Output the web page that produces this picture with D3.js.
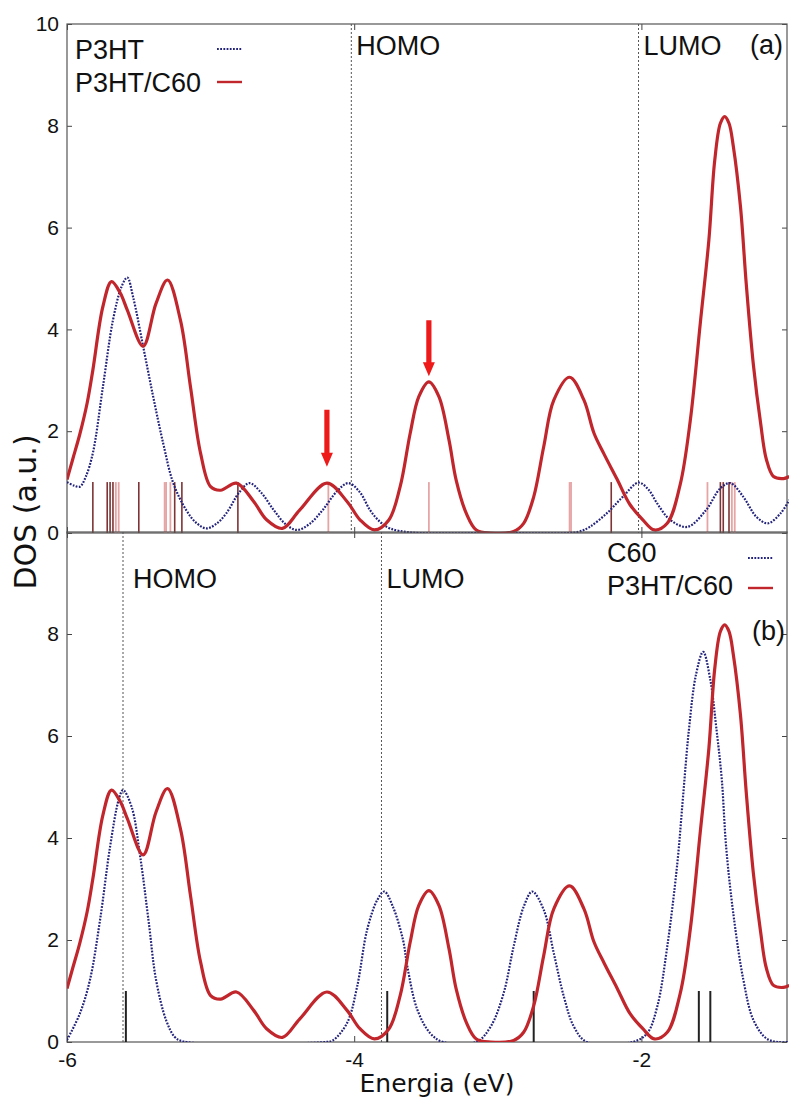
<!DOCTYPE html>
<html>
<head>
<meta charset="utf-8">
<script src="https://cdn.jsdelivr.net/npm/d3@7"></script>
<style>
  body { margin: 0; background: #fff; }
  svg { display: block; }
  text { font-family: "Liberation Sans", Arial, sans-serif; fill: #111; }
</style>
</head>
<body>
<svg id="chart" width="789" height="1099"></svg>
<script>
// ---- data ----
const energyTicks = [-6, -4, -2]
const topDosTicks = [0, 2, 4, 6, 8, 10]
const bottomDosTicks = [0, 2, 4, 6, 8]

// P3HT DOS (panel a, dotted)
const p3htDos = [
  [-6.00, 1.00], [-5.95, 0.93], [-5.91, 0.91], [-5.87, 1.10], [-5.82, 1.57], [-5.75, 2.87],
  [-5.68, 4.18], [-5.62, 4.84], [-5.58, 5.02], [-5.54, 4.64], [-5.47, 3.67], [-5.40, 2.68],
  [-5.33, 1.76], [-5.26, 0.98], [-5.17, 0.45], [-5.10, 0.20], [-5.03, 0.09], [-4.96, 0.18],
  [-4.89, 0.39], [-4.80, 0.80], [-4.73, 0.98], [-4.65, 0.80], [-4.56, 0.45], [-4.48, 0.18],
  [-4.40, 0.06], [-4.31, 0.18], [-4.22, 0.45], [-4.12, 0.82], [-4.04, 0.98], [-3.96, 0.80],
  [-3.89, 0.45], [-3.82, 0.22], [-3.75, 0.09], [-3.60, 0.01], [-3.00, 0.00], [-2.50, 0.00],
  [-2.43, 0.03], [-2.36, 0.12], [-2.24, 0.39], [-2.13, 0.71], [-2.02, 0.99], [-1.95, 0.85],
  [-1.89, 0.58], [-1.80, 0.26], [-1.68, 0.12], [-1.55, 0.45], [-1.45, 0.88], [-1.38, 0.98],
  [-1.29, 0.71], [-1.20, 0.32], [-1.12, 0.19], [-1.03, 0.39], [-0.97, 0.65]
]

// C60 DOS (panel b, dotted)
const c60Dos = [
  [-6.00, 0.04], [-5.91, 0.56], [-5.84, 1.22], [-5.77, 2.39], [-5.70, 3.83], [-5.64, 4.75],
  [-5.61, 4.94], [-5.55, 4.61], [-5.49, 3.63], [-5.43, 2.33], [-5.38, 1.22], [-5.31, 0.43],
  [-5.25, 0.10], [-5.19, 0.01], [-4.20, 0.00], [-4.15, 0.03], [-4.05, 0.37], [-3.98, 1.08],
  [-3.91, 2.20], [-3.84, 2.78], [-3.79, 2.95], [-3.73, 2.65], [-3.66, 2.00], [-3.63, 1.48],
  [-3.56, 0.63], [-3.47, 0.17], [-3.38, 0.00], [-3.15, 0.00], [-3.05, 0.30], [-2.96, 0.95],
  [-2.89, 1.87], [-2.82, 2.65], [-2.76, 2.95], [-2.68, 2.59], [-2.61, 1.74], [-2.54, 0.89],
  [-2.47, 0.30], [-2.38, 0.00], [-2.06, 0.00], [-1.96, 0.17], [-1.89, 0.69], [-1.82, 1.87],
  [-1.75, 3.50], [-1.71, 4.81], [-1.67, 6.10], [-1.62, 7.20], [-1.57, 7.65], [-1.52, 7.10],
  [-1.48, 6.20], [-1.44, 5.14], [-1.41, 3.83], [-1.36, 2.52], [-1.29, 1.22], [-1.22, 0.43],
  [-1.13, 0.07], [-1.05, 0.00], [-0.97, 0.00]
]

// P3HT/C60 DOS (both panels, solid)
const blendDos = [
  [-6.00, 1.05], [-5.96, 1.45], [-5.91, 1.95], [-5.86, 2.55], [-5.82, 3.20], [-5.75, 4.45],
  [-5.69, 4.94], [-5.63, 4.72], [-5.58, 4.38], [-5.47, 3.67], [-5.38, 4.51], [-5.30, 4.97],
  [-5.21, 4.18], [-5.14, 2.87], [-5.07, 1.57], [-5.00, 0.91], [-4.93, 0.84], [-4.82, 0.98],
  [-4.70, 0.62], [-4.61, 0.26], [-4.50, 0.09], [-4.38, 0.45], [-4.19, 0.98], [-4.05, 0.62],
  [-3.96, 0.26], [-3.86, 0.06], [-3.76, 0.25], [-3.68, 0.91], [-3.61, 1.96], [-3.55, 2.68],
  [-3.48, 2.97], [-3.41, 2.68], [-3.34, 1.83], [-3.29, 1.04], [-3.22, 0.39], [-3.15, 0.06],
  [-3.05, 0.00], [-2.89, 0.03], [-2.82, 0.19], [-2.75, 0.71], [-2.68, 1.70], [-2.61, 2.61],
  [-2.50, 3.06], [-2.40, 2.61], [-2.33, 1.96], [-2.26, 1.55], [-2.17, 1.06], [-2.08, 0.56],
  [-1.99, 0.26], [-1.91, 0.06], [-1.82, 0.19], [-1.73, 0.95], [-1.66, 2.20], [-1.59, 4.12],
  [-1.53, 5.76], [-1.49, 7.30], [-1.45, 8.05], [-1.42, 8.18], [-1.39, 8.05], [-1.36, 7.60],
  [-1.31, 6.41], [-1.27, 4.90], [-1.22, 3.30], [-1.17, 2.16], [-1.13, 1.45], [-1.08, 1.11],
  [-1.01, 1.07], [-0.97, 1.11]
]

// eigenvalue sticks (height 1)
const blendSticksDark = [-5.82, -5.72, -5.70, -5.68, -5.50, -5.25, -5.20, -4.81, -2.21, -1.45, -1.43, -1.39]
const blendSticksLight = [-5.66, -5.64, -5.32, -5.31, -5.28, -4.18, -3.48, -2.50, -2.49, -1.54, -1.37, -1.35]
const c60Sticks = [-5.59, -3.77, -2.75, -1.60, -1.52]
const stickHeight = 1

// frontier levels
const topLevels = [['HOMO', -4.02], ['LUMO', -2.02]]
const bottomLevels = [['HOMO', -5.61], ['LUMO', -3.81]]

// arrows in panel a: energy, tail DOS, tip DOS
const arrowE = [-4.19, -3.48]
const arrowTail = [2.42, 4.18]
const arrowTip = [1.30, 3.08]

// ---- drawing ----
const svg = d3.select('#chart')
const left = 67
const right = 787

const x = d3.scaleLinear().domain([-6, -1]).range([67, 785])
const yTop = d3.scaleLinear().domain([0, 10]).range([533, 24])
const yBot = d3.scaleLinear().domain([0, 10]).range([1042, 532])

const BLUE = '#23237c'
const RED = '#c0262b'

// one clip per panel
const defs = svg.append('defs')
;[['clipTop', yTop], ['clipBot', yBot]].forEach(([id, y]) => {
  defs.append('clipPath').attr('id', id)
    .append('rect')
    .attr('x', left).attr('y', y(10))
    .attr('width', 789 - left).attr('height', y(0) - y(10))
})
const clipOf = y => (y === yTop ? 'url(#clipTop)' : 'url(#clipBot)')

function drawPanel(y, ticks, showXLabels) {
  const top = y(10)
  const bottom = y(0)
  const g = svg.append('g')

  // ticks
  g.append('g').attr('transform', `translate(${left},0)`)
    .call(d3.axisLeft(y).tickValues(ticks).tickSize(-5).tickPadding(8).tickFormat(d => d))
  g.append('g').attr('transform', `translate(${right},0)`)
    .call(d3.axisRight(y).tickValues(ticks).tickSize(-5).tickFormat(''))
  g.append('g').attr('transform', `translate(0,${top})`)
    .call(d3.axisTop(x).tickValues(energyTicks).tickSize(-6).tickFormat(''))
  g.append('g').attr('transform', `translate(0,${bottom})`)
    .call(d3.axisBottom(x).tickValues(energyTicks).tickSize(-6).tickPadding(10)
      .tickFormat(showXLabels ? (d => String(d)) : ''))

  g.selectAll('.domain').remove()
  g.selectAll('.tick line').attr('stroke', '#444')
  g.selectAll('.tick text')
    .style('font-family', '"Liberation Sans", Arial, sans-serif')
    .style('font-size', '21px')
    .attr('fill', '#111')

  // frame
  g.append('rect')
    .attr('x', left).attr('y', top)
    .attr('width', right - left).attr('height', bottom - top)
    .attr('fill', 'none').attr('stroke', '#555').attr('stroke-width', 1.2)
  return g
}

function drawLevels(y, levels, offsets) {
  svg.append('g').selectAll('line').data(levels).enter()
    .append('line')
    .attr('x1', d => x(d[1])).attr('x2', d => x(d[1]))
    .attr('y1', y(10)).attr('y2', y(0))
    .attr('stroke', '#555').attr('stroke-width', 1)
    .attr('stroke-dasharray', '2,2')
  svg.append('g').selectAll('text').data(levels).enter()
    .append('text')
    .attr('x', (d, i) => x(d[1]) + offsets[i])
    .attr('y', y(10) + (y === yTop ? 31 : 56))
    .style('font-size', '27px')
    .text(d => d[0])
}

function drawSticks(y, data, color, width) {
  svg.append('g').attr('clip-path', clipOf(y))
    .selectAll('line').data(data).enter()
    .append('line')
    .attr('x1', d => x(d)).attr('x2', d => x(d))
    .attr('y1', y(0)).attr('y2', y(stickHeight))
    .attr('stroke', color).attr('stroke-width', width)
}

function drawCurve(y, data, solid) {
  const line = d3.line()
    .x(d => x(d[0]))
    .y(d => y(d[1]))
    .curve(d3.curveCatmullRom.alpha(0.5))
  const p = svg.append('path')
    .datum(data)
    .attr('clip-path', clipOf(y))
    .attr('d', line)
    .attr('fill', 'none')
  if (solid) {
    p.attr('stroke', RED).attr('stroke-width', 3.2).attr('stroke-linejoin', 'round')
  } else {
    p.attr('stroke', BLUE).attr('stroke-width', 2.2).attr('stroke-dasharray', '1.8,1.4')
  }
}

// panel (a)
drawPanel(yTop, topDosTicks, false)
drawLevels(yTop, topLevels, [5, 5])
drawSticks(yTop, blendSticksLight, '#e6a4a4', 1.8)
drawSticks(yTop, blendSticksDark, '#7e3434', 1.6)
drawCurve(yTop, p3htDos, false)
drawCurve(yTop, blendDos, true)

// arrows
svg.append('g').selectAll('path').data(arrowE).enter()
  .append('path')
  .attr('d', (e, i) => {
    const cx = x(e)
    const t = yTop(arrowTail[i])
    const tip = yTop(arrowTip[i])
    const hb = tip - 14
    return `M${cx - 2.6},${t}L${cx + 2.6},${t}L${cx + 2.6},${hb}L${cx + 6},${hb}` +
      `L${cx},${tip}L${cx - 6},${hb}L${cx - 2.6},${hb}Z`
  })
  .attr('fill', '#ee1a1a')

// panel (b)
drawPanel(yBot, bottomDosTicks, true)
drawLevels(yBot, bottomLevels, [10, 5])
drawSticks(yBot, c60Sticks, '#222', 2)
drawCurve(yBot, c60Dos, false)
drawCurve(yBot, blendDos, true)

// legends and panel tags
const legend = svg.append('g')
legend.append('text').attr('x', 75).attr('y', 59).style('font-size', '27px').text('P3HT')
legend.append('text').attr('x', 75).attr('y', 92).style('font-size', '27px').text('P3HT/C60')
legend.append('line').attr('x1', 217).attr('x2', 242).attr('y1', 49).attr('y2', 49)
  .attr('stroke', BLUE).attr('stroke-width', 2).attr('stroke-dasharray', '1.8,1.4')
legend.append('line').attr('x1', 217).attr('x2', 242).attr('y1', 82).attr('y2', 82)
  .attr('stroke', RED).attr('stroke-width', 2.4)
legend.append('text').attr('x', 750).attr('y', 54).style('font-size', '27px').text('(a)')

legend.append('text').attr('x', 607).attr('y', 562).style('font-size', '27px').text('C60')
legend.append('text').attr('x', 607).attr('y', 595).style('font-size', '27px').text('P3HT/C60')
legend.append('line').attr('x1', 748).attr('x2', 773).attr('y1', 558).attr('y2', 558)
  .attr('stroke', BLUE).attr('stroke-width', 2).attr('stroke-dasharray', '1.8,1.4')
legend.append('line').attr('x1', 748).attr('x2', 773).attr('y1', 588).attr('y2', 588)
  .attr('stroke', RED).attr('stroke-width', 2.4)
legend.append('text').attr('x', 752).attr('y', 640).style('font-size', '27px').text('(b)')

// axis titles
svg.append('text')
  .attr('transform', 'translate(36,512) rotate(-90)')
  .attr('text-anchor', 'middle')
  .style('font-family', '"DejaVu Sans", sans-serif')
  .style('font-size', '30px')
  .text('DOS (a.u.)')
svg.append('text')
  .attr('x', 437).attr('y', 1092)
  .attr('text-anchor', 'middle')
  .style('font-family', '"DejaVu Sans", sans-serif')
  .style('font-size', '25px')
  .text('Energia (eV)')
</script>
</body>
</html>
